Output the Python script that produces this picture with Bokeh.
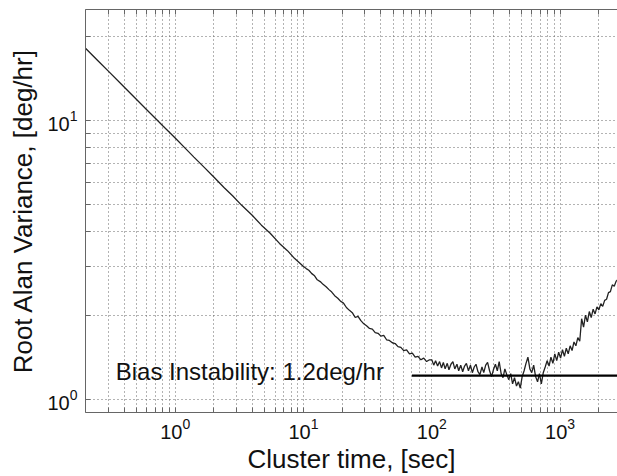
from bokeh.plotting import figure
from bokeh.models import LogAxis, FixedTicker, Range1d, ColumnDataSource, CustomJSTickFormatter
from bokeh.core.properties import value
from bokeh.embed import file_html
from bokeh.resources import INLINE

# ---------------- data ----------------
tau = [0.2, 0.25, 0.3, 0.4, 0.5, 0.6, 0.7, 0.8, 1.0, 1.2, 1.4, 1.7, 2.0, 2.4, 2.8,
       3.3, 4.0, 4.7, 5.5, 6.5, 7.5, 8.5, 10,
       10.5, 11, 11.6, 12.2, 12.8, 13.5, 14.2, 15, 15.8, 16.6, 17.5, 18.5, 19.5, 20.5,
       21.6, 22.8, 24, 25.3, 26.6, 28, 29.5, 31, 32.7, 34.4, 36.2, 38.1, 40.1, 42.2,
       44.4, 46.7, 49.2, 51.8, 54.5, 57.4, 60.4, 63.6, 67, 70.5, 74.2, 78.1, 82.2,
       86.5, 91.1, 95.9,
       100, 103.5, 107, 111, 115, 119, 123, 127, 132, 136, 141, 146, 151, 157, 162,
       168, 174, 180, 186, 193, 200, 207, 214, 221, 229, 237, 246, 254, 263, 272,
       282, 292, 302, 313, 324, 335, 347, 359, 371, 384, 398, 412, 426, 441, 457,
       473, 489, 506, 524, 542, 561, 581, 601, 622, 644, 667, 690, 714, 739, 765,
       792, 820, 848, 878, 909, 941, 974, 1008, 1043, 1080, 1117, 1156, 1197, 1239,
       1282, 1327, 1374, 1422, 1471, 1523, 1576, 1631, 1688, 1747, 1809, 1872, 1937,
       2005, 2076, 2148, 2223, 2301, 2382, 2465, 2551, 2641, 2733, 2829]
adev = [18.17, 16.39, 15.07, 13.19, 11.90, 10.94, 10.19, 9.58, 8.66, 7.95, 7.40, 6.77,
        6.28, 5.76, 5.38, 4.97, 4.57, 4.22, 3.95, 3.63, 3.42, 3.21, 3.00,
        2.95, 2.91, 2.83, 2.78, 2.69, 2.65, 2.59, 2.54, 2.48, 2.43, 2.36, 2.31, 2.25,
        2.22, 2.14, 2.09, 2.05, 1.97, 1.99, 1.92, 1.87, 1.84, 1.80, 1.79, 1.74, 1.73,
        1.69, 1.70, 1.64, 1.63, 1.60, 1.59, 1.55, 1.54, 1.50, 1.51, 1.46, 1.47, 1.42,
        1.43, 1.39, 1.41, 1.37, 1.39,
        1.39, 1.33, 1.38, 1.32, 1.37, 1.30, 1.36, 1.29, 1.35, 1.28, 1.34, 1.37, 1.29,
        1.34, 1.27, 1.33, 1.26, 1.32, 1.35, 1.27, 1.33, 1.25, 1.31, 1.34, 1.26, 1.23,
        1.31, 1.25, 1.33, 1.36, 1.27, 1.21, 1.28, 1.34, 1.27, 1.37, 1.24, 1.20, 1.29,
        1.23, 1.18, 1.24, 1.14, 1.20, 1.12, 1.16, 1.10, 1.21, 1.27, 1.35, 1.42, 1.29,
        1.25, 1.33, 1.21, 1.16, 1.24, 1.14, 1.25, 1.31, 1.38, 1.32, 1.42, 1.35, 1.46,
        1.38, 1.48, 1.41, 1.51, 1.43, 1.53, 1.46, 1.56, 1.50, 1.61, 1.56, 1.67, 1.62,
        1.95, 1.82, 2.01, 1.90, 2.07, 1.97, 2.11, 2.03, 2.15, 2.10, 2.21, 2.16, 2.27,
        2.29, 2.42, 2.44, 2.58, 2.55, 2.66, 2.70]

bias_value = 1.22
bias_tau = [70, 3000]
label_tau = 0.344
label_text = "Bias Instability: 1.2deg/hr"

x_major = [1, 10, 100, 1000]
x_minor = [0.2, 0.3, 0.4, 0.5, 0.6, 0.7, 0.8, 0.9,
           2, 3, 4, 5, 6, 7, 8, 9,
           20, 30, 40, 50, 60, 70, 80, 90,
           200, 300, 400, 500, 600, 700, 800, 900,
           2000]
y_major = [1, 10]
y_minor = [2, 3, 4, 5, 6, 7, 8, 9, 20]

x_title = "Cluster time, [sec]"
y_title = "Root Alan Variance, [deg/hr]"

FONT = "Liberation Sans"
TXT = "#111111"
AX = "#666666"
GRID = "#666666"

p = figure(width=617, height=476,
           x_axis_type="log", y_axis_type="log",
           x_range=Range1d(0.2, 2800), y_range=Range1d(0.9, 25),
           output_backend="svg", toolbar_location=None,
           min_border_left=85, min_border_right=0,
           min_border_top=9, min_border_bottom=61)
p.outline_line_color = None
p.background_fill_color = "white"
p.border_fill_color = "white"

xt = FixedTicker(ticks=x_major, minor_ticks=x_minor)
yt = FixedTicker(ticks=y_major, minor_ticks=y_minor)

# top border with inward ticks, no labels
top = LogAxis(ticker=xt, formatter=CustomJSTickFormatter(code="return ''"),
              major_label_text_font_size="1px", major_label_standoff=0,
              major_tick_out=0, major_tick_in=5, minor_tick_out=0, minor_tick_in=5,
              axis_line_color=AX, major_tick_line_color=AX, minor_tick_line_color=AX)
p.add_layout(top, "above")

p.below[0].ticker = xt
p.left[0].ticker = yt

for ax in (p.below[0], p.left[0]):
    ax.axis_line_color = AX
    ax.major_tick_line_color = AX
    ax.minor_tick_line_color = AX
    ax.major_tick_in = 5
    ax.major_tick_out = 0
    ax.minor_tick_in = 5
    ax.minor_tick_out = 0
    ax.major_label_text_font = FONT
    ax.major_label_text_font_size = "20px"
    ax.major_label_text_color = TXT
    ax.major_label_text_line_height = 1.0
    ax.axis_label_text_font = FONT
    ax.axis_label_text_font_size = "26px"
    ax.axis_label_text_font_style = "normal"
    ax.axis_label_text_color = TXT
    ax.axis_label_text_line_height = 0.8

p.below[0].axis_label = x_title
p.left[0].axis_label = y_title
p.below[0].major_label_standoff = 5
p.below[0].axis_label_standoff = 2
p.left[0].major_label_standoff = 8
p.left[0].axis_label_standoff = 6

for g in (p.xgrid, p.ygrid):
    g.grid_line_color = GRID
    g.grid_line_dash = "1 3"
    g.grid_line_width = 1
    g.minor_grid_line_color = GRID
    g.minor_grid_line_dash = "1 3"
    g.minor_grid_line_width = 1

src = ColumnDataSource(dict(tau=tau, adev=adev))
p.line("tau", "adev", source=src, line_color="#222222", line_width=1.3)

p.line(x=bias_tau, y=[bias_value, bias_value], line_color="black", line_width=2.2)

p.text(x=[label_tau], y=[bias_value], text=[label_text],
       text_font=value(FONT), text_font_size="24px", text_color=TXT,
       text_baseline="middle", text_align="left", y_offset=-4)

open("out.html", "w").write(file_html(p, INLINE))
